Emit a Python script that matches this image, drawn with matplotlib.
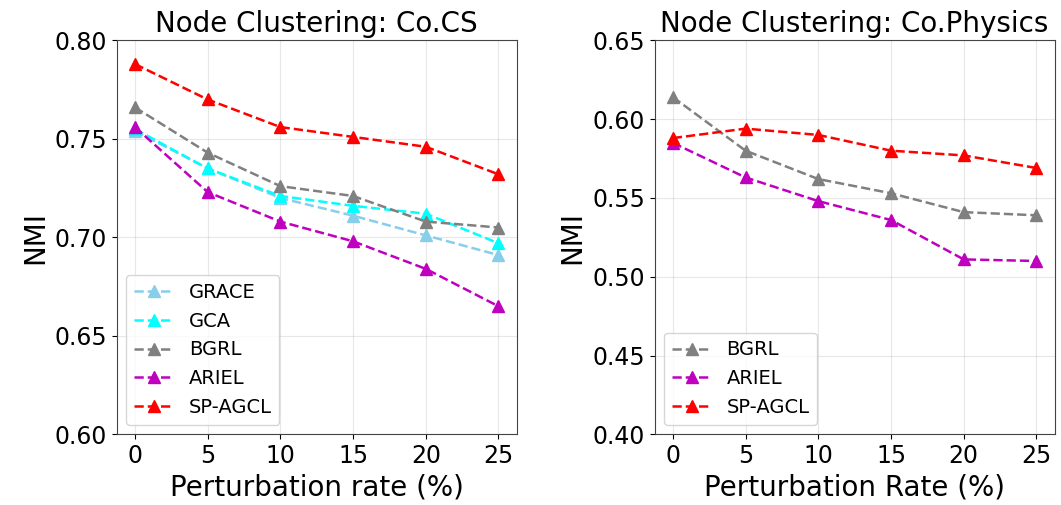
import matplotlib
matplotlib.use("Agg")
import matplotlib.pyplot as plt

rates = [0, 5, 10, 15, 20, 25]

# Co.CS
cs_grace = [0.754, 0.735, 0.720, 0.711, 0.701, 0.691]
cs_gca = [0.755, 0.735, 0.721, 0.716, 0.712, 0.697]
cs_bgrl = [0.766, 0.743, 0.726, 0.721, 0.708, 0.705]
cs_ariel = [0.756, 0.723, 0.708, 0.698, 0.684, 0.665]
cs_spagcl = [0.788, 0.770, 0.756, 0.751, 0.746, 0.732]

# Co.Physics
ph_bgrl = [0.614, 0.580, 0.562, 0.553, 0.541, 0.539]
ph_ariel = [0.585, 0.563, 0.548, 0.536, 0.511, 0.510]
ph_spagcl = [0.588, 0.594, 0.590, 0.580, 0.577, 0.569]

fig, (ax1, ax2) = plt.subplots(1, 2, figsize=(10.61, 5.05), dpi=100)

style = dict(linestyle="--", marker="^", markersize=8, linewidth=1.8)

ax1.plot(rates, cs_grace, color="skyblue", label="GRACE", **style)
ax1.plot(rates, cs_gca, color="cyan", label="GCA", **style)
ax1.plot(rates, cs_bgrl, color="gray", label="BGRL", **style)
ax1.plot(rates, cs_ariel, color="m", label="ARIEL", **style)
ax1.plot(rates, cs_spagcl, color="red", label="SP-AGCL", **style)
ax1.set_ylim(0.60, 0.80)
ax1.set_yticks([0.60, 0.65, 0.70, 0.75, 0.80])
ax1.set_title("Node Clustering: Co.CS", fontsize=20)
ax1.set_xlabel("Perturbation rate (%)", fontsize=20)

ax2.plot(rates, ph_bgrl, color="gray", label="BGRL", **style)
ax2.plot(rates, ph_ariel, color="m", label="ARIEL", **style)
ax2.plot(rates, ph_spagcl, color="red", label="SP-AGCL", **style)
ax2.set_ylim(0.40, 0.65)
ax2.set_yticks([0.40, 0.45, 0.50, 0.55, 0.60, 0.65])
ax2.set_title("Node Clustering: Co.Physics", fontsize=20)
ax2.set_xlabel("Perturbation Rate (%)", fontsize=20)

for ax in (ax1, ax2):
    ax.set_xticks(rates)
    ax.set_ylabel("NMI", fontsize=20)
    ax.tick_params(labelsize=17)
    ax.grid(True, alpha=0.3)
    ax.yaxis.set_major_formatter(matplotlib.ticker.FormatStrFormatter("%.2f"))
    for s in ax.spines.values():
        s.set_color("#444444")
    ax.legend(loc="lower left", fontsize=14)

plt.subplots_adjust(left=0.110, right=0.994, top=0.92, bottom=0.14, wspace=0.345)
plt.savefig("out.png")
